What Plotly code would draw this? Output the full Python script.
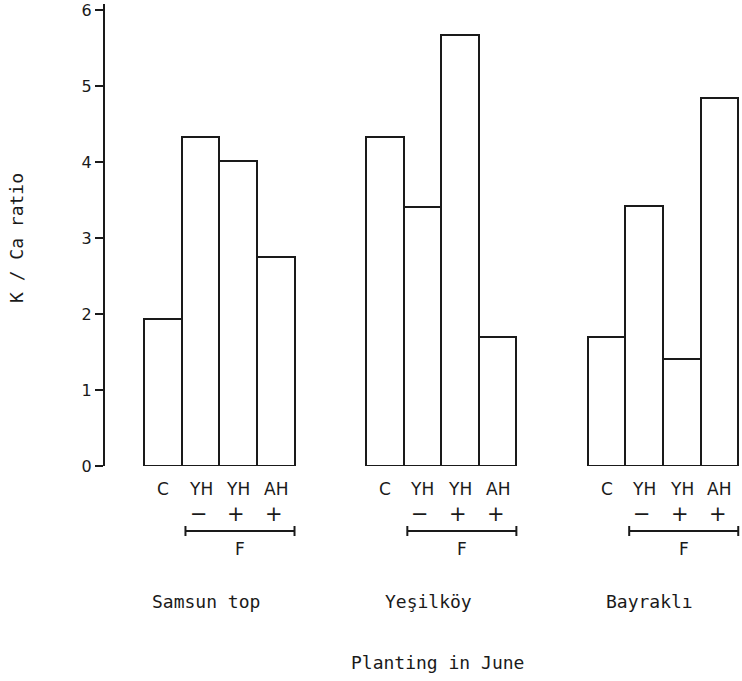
import plotly.graph_objects as go

# ---- data ----
groups = ["Samsun top", "Yeşilköy", "Bayraklı"]
treatments = ["C", "YH", "YH", "AH"]
signs = ["", "−", "+", "+"]
samsun_top = [1.93, 4.33, 4.01, 2.75]
yesilkoy = [4.33, 3.41, 5.67, 1.70]
bayrakli = [1.70, 3.42, 1.41, 4.84]
y_ticks = [0, 1, 2, 3, 4, 5, 6]
y_title = "K / Ca ratio"
x_title = "Planting in June"
bracket_label = "F"

series = [samsun_top, yesilkoy, bayrakli]
GROUP_STEP = 5.9

W, H = 742, 681
ML, MR, MT, MB = 105, 0, 4, 215
PH = H - MT - MB
BASE = H - MB  # pixel of y=0


def yp(px):
    return (BASE - px) / PH


FONT = "DejaVu Sans"
WIDE = "DejaVu Sans Mono"
INK = "#1a1a1a"

xs, ys = [], []
for g, vals in enumerate(series):
    for i, v in enumerate(vals):
        xs.append(g * GROUP_STEP + i)
        ys.append(v)

fig = go.Figure()
fig.add_trace(go.Bar(
    x=xs, y=ys, width=1.0,
    marker=dict(color="white", line=dict(color=INK, width=2)),
    showlegend=False, hoverinfo="y",
))

ann = []
shapes = []
for g, name in enumerate(groups):
    x0 = g * GROUP_STEP
    for i, t in enumerate(treatments):
        ann.append(dict(x=x0 + i, y=yp(489), xref="x", yref="paper", text=t,
                        showarrow=False, yanchor="middle",
                        font=dict(family=FONT, size=17, color=INK)))
        if signs[i]:
            ann.append(dict(x=x0 + i - 0.05, y=yp(514), xref="x", yref="paper",
                            text=signs[i], showarrow=False, yanchor="middle",
                            font=dict(family=FONT, size=21, color=INK)))
    bx0, bx1 = x0 + 0.6, x0 + 3.5
    by = yp(531)
    tk = 5 / PH
    shapes.append(dict(type="line", xref="x", yref="paper", x0=bx0, x1=bx1, y0=by, y1=by,
                       line=dict(color=INK, width=2)))
    for bx in (bx0, bx1):
        shapes.append(dict(type="line", xref="x", yref="paper", x0=bx, x1=bx,
                           y0=by - tk, y1=by + tk, line=dict(color=INK, width=2)))
    ann.append(dict(x=(bx0 + bx1) / 2, y=yp(549), xref="x", yref="paper", text=bracket_label,
                    showarrow=False, yanchor="middle",
                    font=dict(family=FONT, size=17, color=INK)))
    ann.append(dict(x=x0 + 1.15, y=yp(601), xref="x", yref="paper", text=name,
                    showarrow=False, yanchor="middle",
                    font=dict(family=WIDE, size=18, color=INK)))

ann.append(dict(x=(437 - ML) / (W - ML - MR), y=yp(662), xref="paper", yref="paper",
                text=x_title, showarrow=False, yanchor="middle",
                font=dict(family=WIDE, size=18, color=INK)))
ann.append(dict(x=(16 - ML) / (W - ML - MR), y=yp(238), xref="paper", yref="paper",
                text=y_title, showarrow=False, textangle=-90,
                xanchor="center", yanchor="middle",
                font=dict(family=WIDE, size=18, color=INK)))

fig.update_layout(
    width=W, height=H,
    margin=dict(l=ML, r=MR, t=MT, b=MB),
    paper_bgcolor="white", plot_bgcolor="white",
    bargap=0,
    annotations=ann, shapes=shapes,
    xaxis=dict(range=[-1.54, 15.4], showticklabels=False, showgrid=False,
               zeroline=False, showline=False, ticks=""),
    yaxis=dict(range=[0, 6.08], tickvals=y_ticks, showgrid=False, zeroline=False,
               showline=True, linecolor=INK, linewidth=2,
               ticks="outside", ticklen=8, tickwidth=2, tickcolor=INK,
               tickfont=dict(family=FONT, size=16, color=INK)),
)

fig.write_html("out.html")
